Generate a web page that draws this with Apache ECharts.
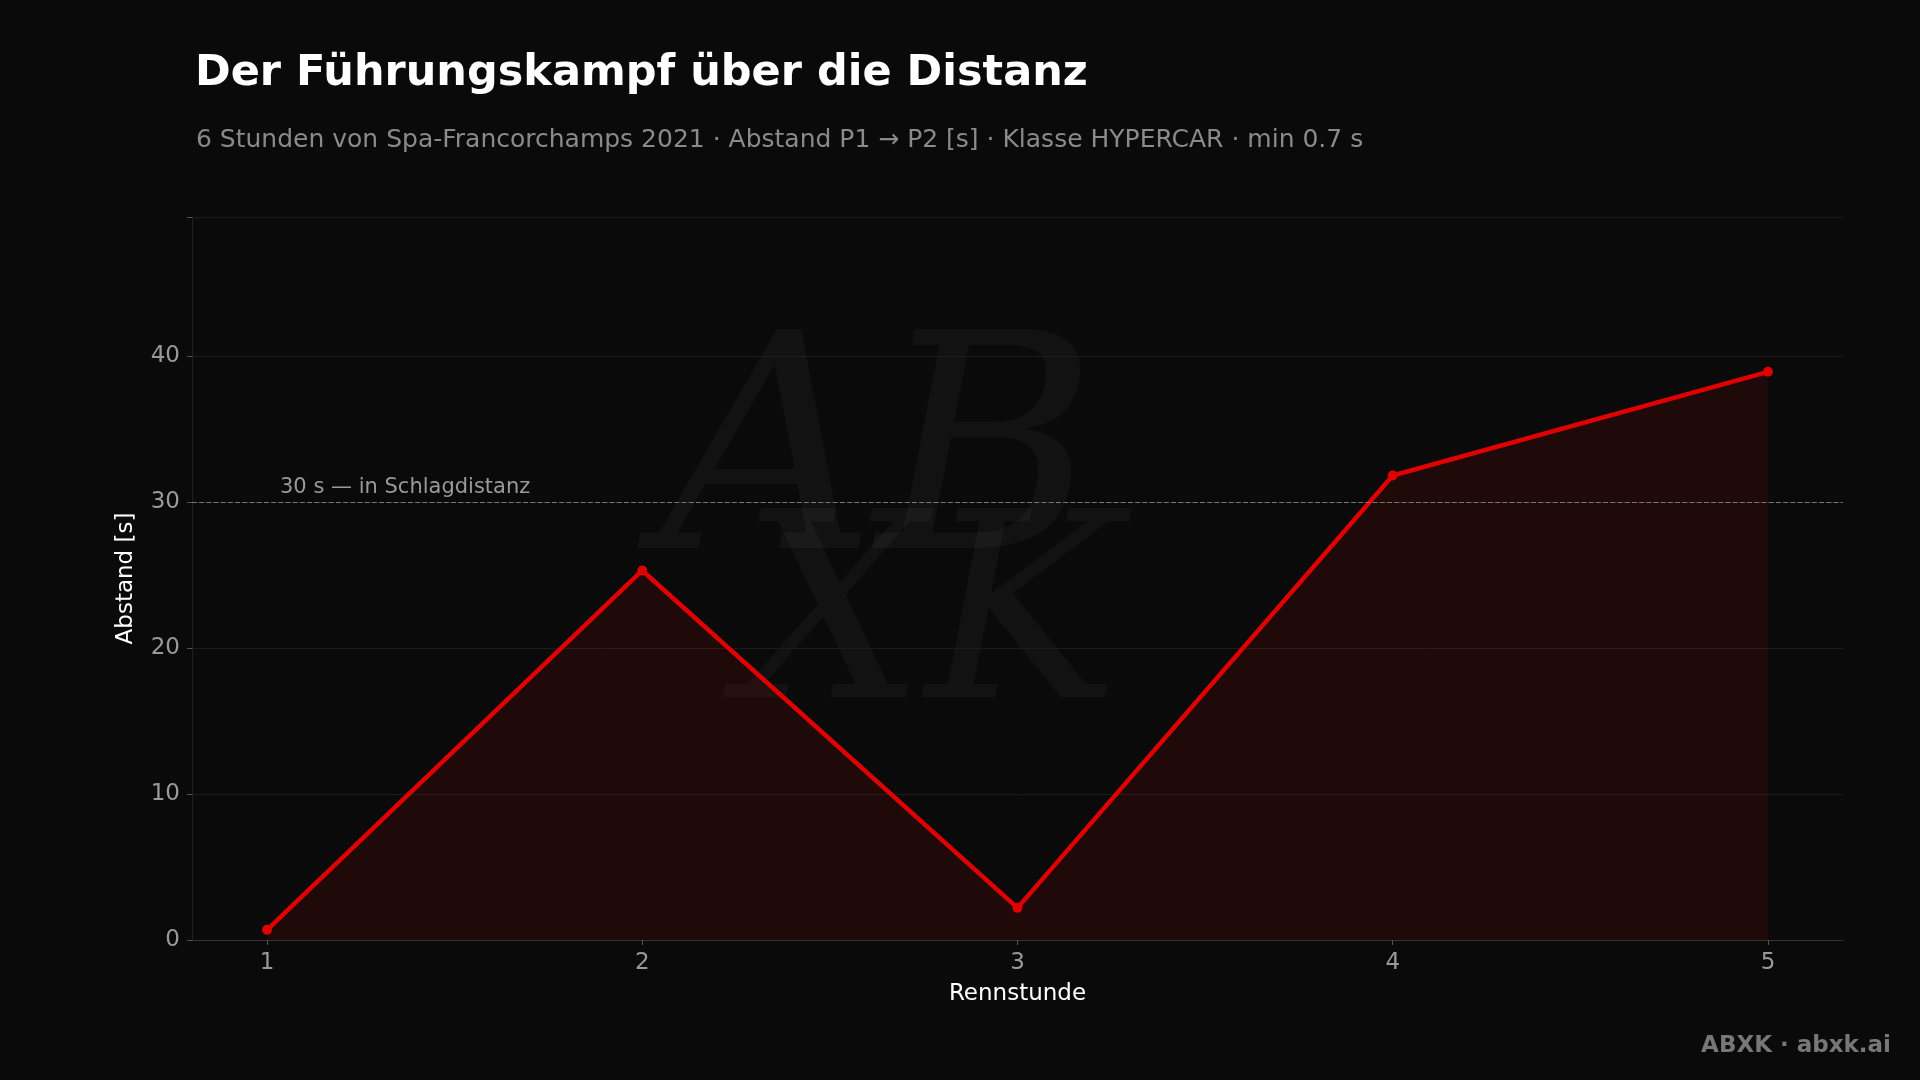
<!DOCTYPE html>
<html>
<head>
<meta charset="UTF-8">
<title>Führungskampf</title>
<script src="https://cdn.jsdelivr.net/npm/echarts@6/dist/echarts.min.js"></script>
<style>
  html, body { margin: 0; background: #0a0a0a; }
  #chart { width: 1920px; height: 1080px; }
</style>
</head>
<body>
<div id="chart"></div>
<script>
var hours = [1, 2, 3, 4, 5];
var gaps = [0.7, 25.3, 2.2, 31.8, 38.9];
var threshold = 30;

var chart = echarts.init(document.getElementById('chart'));
var font = 'DejaVu Sans';

var option = {
  backgroundColor: '#0a0a0a',
  textStyle: { fontFamily: font },
  title: [{
    text: 'Der Führungskampf über die Distanz',
    left: 190, top: 47,
    textStyle: { color: '#ffffff', fontSize: 43, fontWeight: 'bold', fontFamily: font }
  }, {
    text: '6 Stunden von Spa-Francorchamps 2021 · Abstand P1 → P2 [s] · Klasse HYPERCAR · min 0.7 s',
    left: 191, top: 123,
    textStyle: { color: '#8a8a8a', fontSize: 25, fontWeight: 'normal', fontFamily: font }
  }],
  graphic: [{
    type: 'text', left: 660, top: 320, z: 0, silent: true,
    style: { text: 'AB', font: 'italic 300px "DejaVu Serif"', fill: 'rgba(255,255,255,0.035)' }
  }, {
    type: 'text', left: 740, top: 500, z: 0, silent: true,
    style: { text: 'XK', font: 'italic 260px "DejaVu Serif"', fill: 'rgba(255,255,255,0.035)' }
  }, {
    type: 'text', right: 29, bottom: 22,
    style: { text: 'ABXK · abxk.ai', font: 'bold 23px "DejaVu Sans"', fill: '#777777' }
  }],
  grid: { left: 192, right: 77, top: 217, bottom: 140 },
  xAxis: {
    type: 'value', min: 0.8, max: 5.2,
    name: 'Rennstunde', nameLocation: 'middle', nameGap: 43,
    nameTextStyle: { color: '#ffffff', fontSize: 23 },
    axisLine: { show: true, lineStyle: { color: '#333' } },
    splitLine: { show: false },
    axisLabel: {
      color: '#999', fontSize: 23, margin: 12,
      customValues: hours,
      formatter: function (v) { return String(v); }
    },
    axisTick: { show: true, customValues: hours, lineStyle: { color: '#555' } }
  },
  yAxis: {
    type: 'value', min: 0, max: 49.5, interval: 10,
    name: 'Abstand [s]', nameLocation: 'middle', nameGap: 54,
    nameTextStyle: { color: '#ffffff', fontSize: 23 },
    axisLine: { show: true, lineStyle: { color: '#222' } },
    axisTick: { show: true, lineStyle: { color: '#555' } },
    splitLine: { lineStyle: { color: '#1c1c1c' } },
    axisLabel: {
      color: '#999', fontSize: 23, margin: 12,
      formatter: function (v) { return v % 10 === 0 ? String(v) : ''; }
    }
  },
  series: [{
    type: 'line',
    data: hours.map(function (h, i) { return [h, gaps[i]]; }),
    lineStyle: { color: '#e00000', width: 4.5 },
    itemStyle: { color: '#e00000' },
    symbol: 'circle', symbolSize: 10,
    areaStyle: { color: 'rgba(220,0,0,0.14)' },
    z: 3,
    markLine: {
      silent: true, symbol: 'none',
      lineStyle: { color: '#777', type: 'dashed', width: 1.2 },
      label: {
        position: 'insideStartTop', formatter: '30 s — in Schlagdistanz',
        color: '#999', fontSize: 21, distance: [88, 4]
      },
      data: [{ yAxis: threshold }]
    }
  }]
};
chart.setOption(option);
</script>
</body>
</html>
